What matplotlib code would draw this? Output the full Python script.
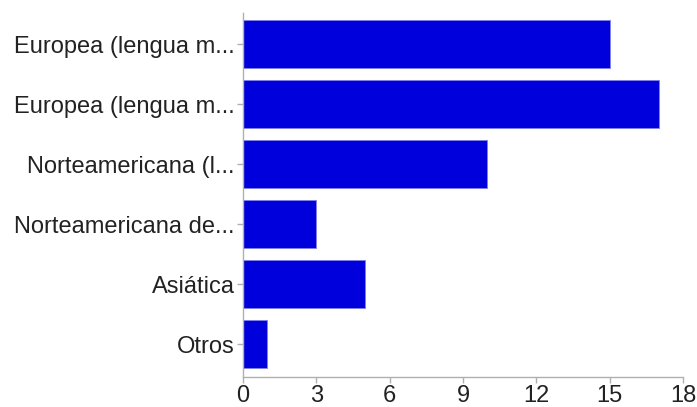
import matplotlib.pyplot as plt

categories = [
    "Europea (lengua m...",
    "Europea (lengua m...",
    "Norteamericana (l...",
    "Norteamericana de...",
    "Asiática",
    "Otros",
]
counts = [15, 17, 10, 3, 5, 1]
xticks = [0, 3, 6, 9, 12, 15, 18]

plt.rcParams["font.family"] = ["Liberation Sans", "DejaVu Sans"]

fig = plt.figure(figsize=(6.97, 4.07), dpi=100)
ax = fig.add_axes([243 / 697, 1 - 377 / 407, 440 / 697, 364 / 407])

ypos = list(range(len(categories)))
ax.barh(ypos, counts, height=0.8, color="#0000dd", edgecolor="#8080ee", linewidth=0.6)

ax.set_xlim(0, 18)
ax.set_ylim(5.55, -0.517)
ax.set_xticks(xticks)
ax.set_yticks(ypos)
ax.set_yticklabels(categories)

for side in ["top", "right"]:
    ax.spines[side].set_visible(False)
for side in ["left", "bottom"]:
    ax.spines[side].set_color("#b0b0b0")
    ax.spines[side].set_linewidth(1)

ax.tick_params(axis="both", colors="#b0b0b0", labelcolor="#222222", labelsize=17, length=4, width=1, pad=2)

fig.savefig("out.png", dpi=100)
